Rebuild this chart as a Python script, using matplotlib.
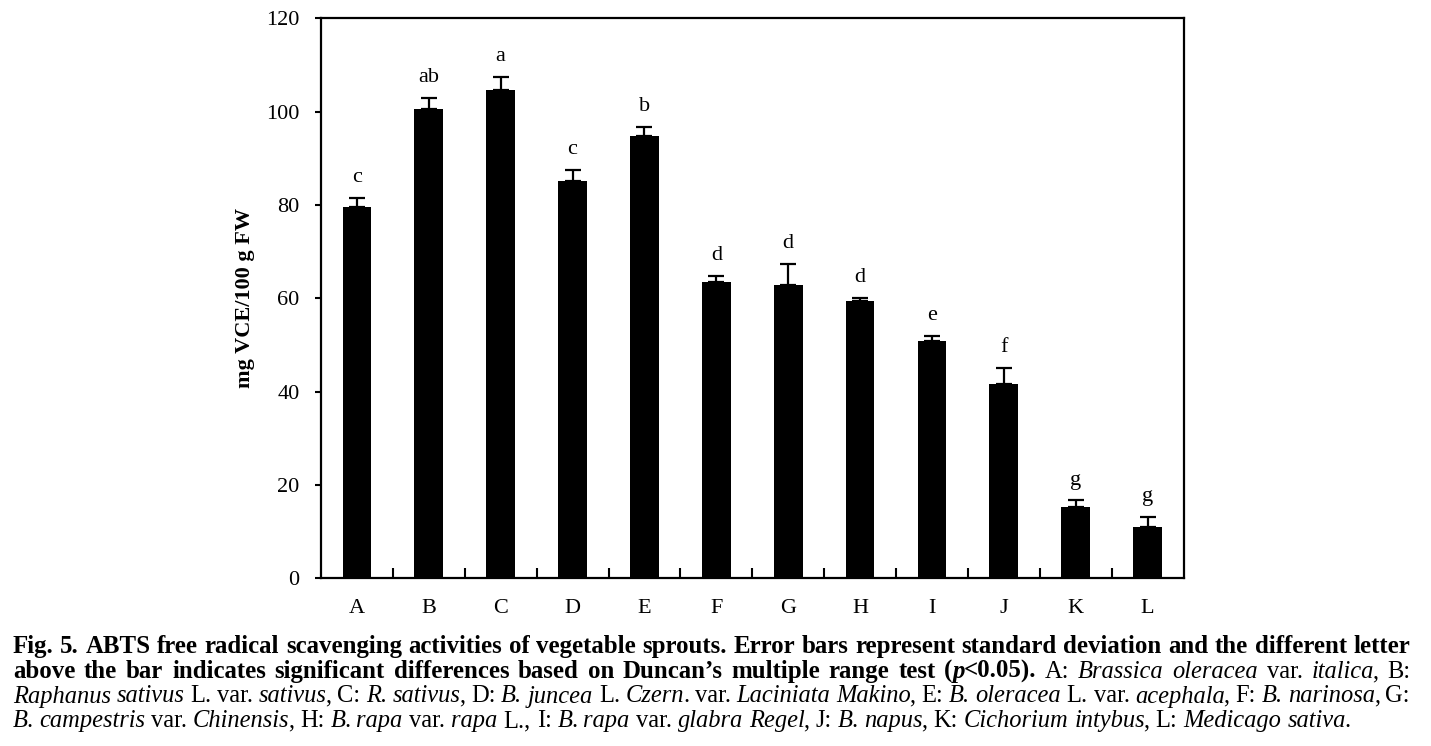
import matplotlib
matplotlib.use("Agg")
import matplotlib.pyplot as plt
import numpy as np

categories = ["A", "B", "C", "D", "E", "F", "G", "H", "I", "J", "K", "L"]
abts = [79.6, 100.6, 104.6, 85.2, 94.8, 63.6, 62.8, 59.5, 50.8, 41.7, 15.2, 11.1]
sd = [2.0, 2.3, 2.8, 2.3, 1.9, 1.2, 4.6, 0.6, 1.1, 3.4, 1.5, 2.1]
groups = ["c", "ab", "a", "c", "b", "d", "d", "d", "e", "f", "g", "g"]

caption_lines = [
    [("Fig. 5. ABTS free radical scavenging activities of vegetable sprouts. "
      "Error bars represent standard deviation and the different letter", "b")],
    [("above the bar indicates significant differences based on Duncan\u2019s "
      "multiple range test (", "b"), ("p", "bi"), ("<0.05).", "b"),
     (" A: ", "r"), ("Brassica oleracea", "i"), (" var. ", "r"),
     ("italica", "i"), (", B:", "r")],
    [("Raphanus sativus", "i"), (" L. var. ", "r"), ("sativus", "i"),
     (", C: ", "r"), ("R. sativus", "i"), (", D: ", "r"), ("B. juncea", "i"),
     (" L. ", "r"), ("Czern", "i"), (". var. ", "r"),
     ("Laciniata Makino", "i"), (", E: ", "r"), ("B. oleracea", "i"),
     (" L. var. ", "r"), ("acephala", "i"), (", F: ", "r"),
     ("B. narinosa", "i"), (", G:", "r")],
    [("B", "i"), (". ", "r"), ("campestris", "i"), (" var. ", "r"),
     ("Chinensis", "i"), (", H: ", "r"), ("B", "i"), (". ", "r"),
     ("rapa", "i"), (" var. ", "r"), ("rapa", "i"), (" L., I: ", "r"),
     ("B", "i"), (". ", "r"), ("rapa", "i"), (" var. ", "r"),
     ("glabra Regel", "i"), (", J: ", "r"), ("B", "i"), (". ", "r"),
     ("napus", "i"), (", K: ", "r"), ("Cichorium intybus", "i"),
     (", L: ", "r"), ("Medicago sativa", "i"), (".", "r")],
]

plt.rcParams["font.family"] = "Liberation Serif"

W, H = 1431, 746
fig = plt.figure(figsize=(W / 100, H / 100), dpi=100)
ax = fig.add_axes([321 / W, 1 - 578.3 / H, (1183.5 - 321) / W, (578.3 - 18.3) / H])

x = np.arange(len(categories))
ax.bar(x, abts, width=0.4, color="black", zorder=2)
ax.errorbar(x, abts, yerr=[np.zeros(len(sd)), sd], fmt="none", ecolor="black",
            elinewidth=1.6, capsize=5.5, capthick=1.6, zorder=1)
for xi, v, e, g in zip(x, abts, sd, groups):
    ax.text(xi, v + e + 3.4, g, ha="center", va="baseline", fontsize=16)

ax.set_xlim(-0.5, len(categories) - 0.5)
ax.set_ylim(0, 120)
ax.set_yticks(np.arange(0, 121, 20))
ax.set_xticks(x)
ax.set_xticklabels(categories)
ax.set_xticks(np.arange(0.5, len(categories) - 1, 1), minor=True)
ax.tick_params(axis="x", which="major", length=0, pad=15, labelsize=16)
ax.tick_params(axis="x", which="minor", direction="in", length=7, width=1.5)
ax.tick_params(axis="y", direction="out", length=4.5, width=1.5, pad=11,
               labelsize=16)
for s in ax.spines.values():
    s.set_linewidth(1.6)
ax.set_ylabel("mg VCE/100 g FW", fontsize=16, fontweight="bold")
ax.yaxis.set_label_coords(-0.077, 0.5)

# caption, justified line by line
styles = {"r": ("normal", "normal"), "b": ("bold", "normal"),
          "i": ("normal", "italic"), "bi": ("bold", "italic")}
left, right = 13, 1410
last_end = 1353
baselines = [653, 678, 702.5, 727]
renderer = fig.canvas.get_renderer()


def split_words(runs):
    words, cur = [], []
    for text, st in runs:
        parts = text.split(" ")
        for k, p in enumerate(parts):
            if k > 0 and cur:
                words.append(cur)
                cur = []
            if p:
                cur.append((p, st))
    if cur:
        words.append(cur)
    return words


def place_line(runs, y, sizes):
    items, widths = [], []
    for w in split_words(runs):
        pieces, wsum = [], 0
        for k, (p, st) in enumerate(w):
            weight, style = styles[st]
            size = sizes["b"] if weight == "bold" else sizes["r"]
            t = fig.text(0, 1 - y / H, p, fontsize=size, fontweight=weight,
                         fontstyle=style, va="baseline", ha="left")
            pw = t.get_window_extent(renderer).width
            # italic ink overhang leaves a gap before upright punctuation
            if style == "italic" and k < len(w) - 1 and "i" not in w[k + 1][1]:
                pw -= 1.5
            pieces.append((t, pw))
            wsum += pw
        items.append(pieces)
        widths.append(wsum)
    return items, widths


def natural_width(runs, sizes):
    items, widths = place_line(runs, 0, sizes)
    for pieces in items:
        for t, _ in pieces:
            t.remove()
    space = 0.25 * sizes["r"] * 100 / 72
    return sum(widths) + space * (len(widths) - 1)


base = 16.0
sizes = {"b": base, "r": base}
sizes["b"] = base * (right - left) / natural_width(caption_lines[0], sizes)
sizes["r"] = base * (last_end - left) / natural_width(caption_lines[3], sizes)

for li, runs in enumerate(caption_lines):
    items, widths = place_line(runs, baselines[li], sizes)
    if li < len(caption_lines) - 1:
        gap = (right - left - sum(widths)) / (len(widths) - 1)
    else:
        gap = 0.25 * sizes["r"] * 100 / 72
    xpos = left
    for pieces, wsum in zip(items, widths):
        px = xpos
        for t, pw in pieces:
            t.set_x(px / W)
            px += pw
        xpos += wsum + gap

fig.savefig("out.png", dpi=100)
